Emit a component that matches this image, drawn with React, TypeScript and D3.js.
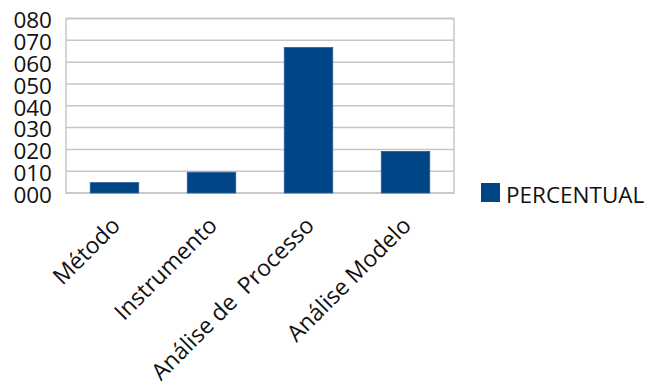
import React from "react";
import * as d3 from "d3";

const categories = ["Método", "Instrumento", "Análise de  Processo", "Análise Modelo"];
const percentual = [4.76, 9.52, 66.67, 19.05];
const yTicks = [0, 10, 20, 30, 40, 50, 60, 70, 80];
const seriesName = "PERCENTUAL";

export default function App() {
  const W = 648, H = 382;
  const left = 66, right = 454, top = 18.5, bottom = 193;
  const x = d3.scaleBand<string>().domain(categories).range([left, right]).paddingInner(0.5).paddingOuter(0.25);
  const y = d3.scaleLinear().domain([0, 80]).range([bottom, top]);
  const font = "'Open Sans', sans-serif";
  const fmt = (v: number) => String(v).padStart(3, "0");
  return (
    <svg width={W} height={H} style={{ position: "absolute", left: 0, top: 0, background: "#fff" }}>
      {yTicks.map((t) => (
        <line key={t} x1={left} x2={right} y1={y(t)} y2={y(t)} stroke="#c6c6c6" strokeWidth={1.5} />
      ))}
      <rect x={left} y={top} width={right - left} height={bottom - top} fill="none" stroke="#c6c6c6" strokeWidth={1.5} />
      {categories.map((c, i) => (
        <rect key={c} x={x(c)!} y={y(percentual[i])} width={x.bandwidth()} height={bottom - y(percentual[i])}
          fill="#004586" stroke="#2a5c99" strokeWidth={0.8} />
      ))}
      {yTicks.map((t) => (
        <text key={t} x={52} y={y(t) + 9.8} textAnchor="end" fontFamily={font} fontSize={22.5} fill="#111">
          {fmt(t)}
        </text>
      ))}
      {categories.map((c) => {
        const cx = x(c)! + x.bandwidth() / 2 + 7;
        const cy = 227;
        return (
          <text key={c} x={cx} y={cy} textAnchor="end" fontFamily={font} fontSize={23} fill="#111"
            transform={`rotate(-45, ${cx}, ${cy})`} style={{ whiteSpace: "pre" }}>
            {c}
          </text>
        );
      })}
      <rect x={481} y={183} width={19} height={19} fill="#004586" />
      <text x={506} y={202.5} fontFamily={font} fontSize={22.5} fill="#111">{seriesName}</text>
    </svg>
  );
}
